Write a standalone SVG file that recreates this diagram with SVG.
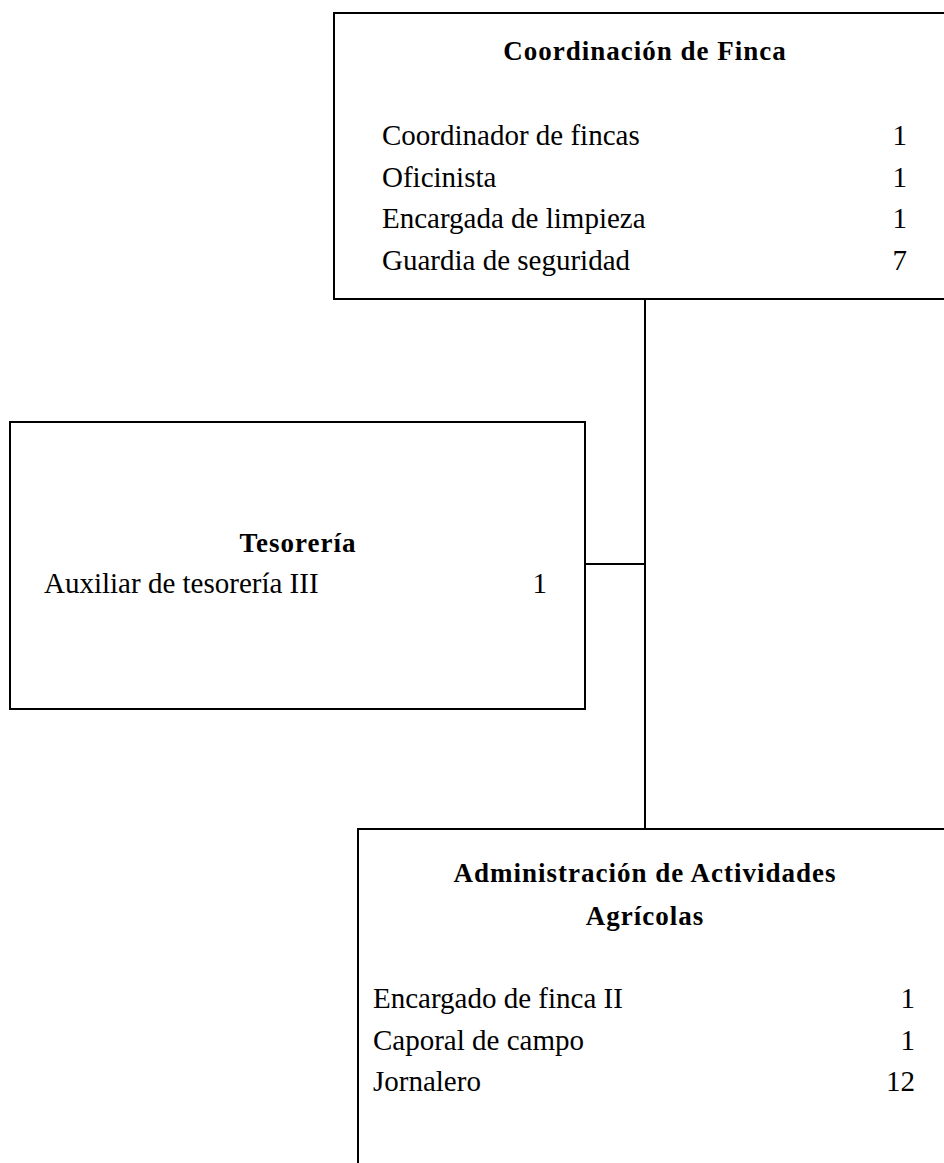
<svg xmlns="http://www.w3.org/2000/svg" width="944" height="1163" viewBox="0 0 944 1163">
<style>
.box{fill:#fff;stroke:#000;stroke-width:2}
.t{font-family:"Liberation Serif","Times New Roman",serif;font-size:27px;font-weight:bold;letter-spacing:1px;text-anchor:middle;fill:#000}
.b{font-family:"Liberation Serif","Times New Roman",serif;font-size:29px;fill:#000}
.n{font-family:"Liberation Serif","Times New Roman",serif;font-size:29px;fill:#000;text-anchor:end}
.c{fill:none;stroke:#000;stroke-width:2}
</style>
<rect width="944" height="1163" fill="#fff"/>
<g id="connectors">
<line class="c" x1="645" y1="299" x2="645" y2="829"/>
<line class="c" x1="585" y1="564" x2="645" y2="564"/>
</g>
<g id="coordinacion">
<rect class="box" x="334" y="13" width="700" height="286"/>
<text class="t" x="645" y="60">Coordinación de Finca</text>
<text class="b" x="382" y="145">Coordinador de fincas</text>
<text class="n" x="907" y="145">1</text>
<text class="b" x="382" y="187">Oficinista</text>
<text class="n" x="907" y="187">1</text>
<text class="b" x="382" y="228">Encargada de limpieza</text>
<text class="n" x="907" y="228">1</text>
<text class="b" x="382" y="270">Guardia de seguridad</text>
<text class="n" x="907" y="270">7</text>
</g>
<g id="tesoreria">
<rect class="box" x="10" y="422" width="575" height="287"/>
<text class="t" x="298" y="552">Tesorería</text>
<text class="b" x="44" y="593">Auxiliar de tesorería III</text>
<text class="n" x="547" y="593">1</text>
</g>
<g id="administracion">
<rect class="box" x="358" y="829" width="700" height="400"/>
<text class="t" x="645" y="882">Administración de Actividades</text>
<text class="t" x="645" y="925">Agrícolas</text>
<text class="b" x="373" y="1008">Encargado de finca II</text>
<text class="n" x="915" y="1008">1</text>
<text class="b" x="373" y="1050">Caporal de campo</text>
<text class="n" x="915" y="1050">1</text>
<text class="b" x="373" y="1091">Jornalero</text>
<text class="n" x="915" y="1091">12</text>
</g>
</svg>
